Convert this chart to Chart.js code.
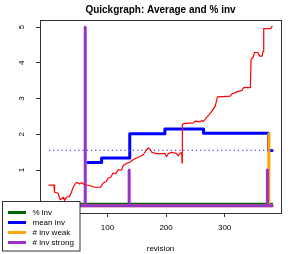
<!DOCTYPE html>
<html>
<head>
<meta charset="utf-8">
<script src="https://cdn.jsdelivr.net/npm/chart.js@4.4.0/dist/chart.umd.min.js"></script>
<style>
  body { margin: 0; background: #fff; }
  canvas { display: block; }
</style>
</head>
<body>
<canvas id="chart" width="294" height="254"></canvas>
<script>
// red running average (revision, value)
const avgRev = [0, 6.7, 8.7, 9.6, 15.3, 19.4, 25, 26.7, 29.7, 35, 38.2, 41, 45.6, 49.5, 52.5, 55.4, 61, 69.6, 78.2, 88.5,
    92.4, 98.2, 101, 105.6, 109.5, 114.2, 118.1, 124, 126.7, 131.3, 138.2, 143.8, 149.7, 155.3, 161, 166.8, 169.5,
    172.5, 175.4, 184, 198.2, 201.1, 203.8, 209.7, 218.2, 221, 223.9, 226.8, 227.3, 227.8, 229.6, 246.7, 249.6,
    258.2, 261.1, 263.8, 268.5, 274.1, 278.2, 283.9, 287.8, 309.6, 312.5, 321.1, 329.7, 332.4, 343.9, 345.1,
    348.5, 350.8, 356.4, 359.9, 364, 365.7, 366.7, 378.2, 381]
const avgVal = [0.58, 0.58, 0.58, 0.38, 0.36, 0.17, 0.24, 0.15, 0.24, 0.26, 0.37, 0.5, 0.64, 0.65, 0.61, 0.65, 0.59, 0.57, 0.52, 0.52,
    0.64, 0.68, 0.78, 0.8, 0.92, 0.9, 1.01, 1.0, 1.12, 1.18, 1.22, 1.29, 1.34, 1.38, 1.43, 1.57, 1.62,
    1.59, 1.5, 1.46, 1.46, 1.38, 1.46, 1.5, 1.46, 1.4, 1.48, 1.48, 1.2, 2.27, 2.3, 2.32, 2.37,
    2.35, 2.39, 2.36, 2.46, 2.56, 2.65, 2.79, 3.05, 3.07, 3.13, 3.19, 3.23, 3.31, 3.31, 4.1,
    4.15, 4.29, 4.29, 4.19, 4.19, 4.33, 4.96, 4.96, 5.02]

// mean inv, held until the next revision listed
const meanRev = [66, 90, 138, 198, 264, 375, 381]
const meanVal = [1.21, 1.34, 2.02, 2.15, 2.03, 1.55, 1.55]

const overallMean = 1.55
const firstRev = 0
const lastRev = 381

const pctRev = [0, 381]
const pctVal = [0.06, 0.06]

const weakRev = [0, 375.5, 375.5, 375.5, 381]
const weakVal = [0, 0, 2.02, 0, 0]

const strongRev = [0, 62, 62, 62, 137, 137, 137, 373, 373, 373, 381]
const strongVal = [0, 0, 5, 0, 0, 1, 0, 0, 1, 0, 0]

const xTicks = [0, 100, 200, 300]
const yTicks = [0, 1, 2, 3, 4, 5]

const legendLabels = ['% inv', 'mean inv', '# inv weak', '# inv strong']

const FONT = '"Liberation Sans", Arial, Helvetica, sans-serif'

function pts(xs, ys) {
    return xs.map((x, i) => ({ x: x, y: ys[i] }))
}

const frameBox = {
    id: 'frameBox',
    afterDatasetsDraw(chart) {
        const a = chart.chartArea
        const ctx = chart.ctx
        ctx.save()
        ctx.strokeStyle = '#333'
        ctx.lineWidth = 1
        ctx.strokeRect(Math.round(a.left) + 0.5, Math.round(a.top) + 0.5,
            Math.round(a.right - a.left), Math.round(a.bottom - a.top))
        ctx.restore()
    },
}

const boxLegend = {
    id: 'boxLegend',
    afterDraw(chart) {
        const ctx = chart.ctx
        ctx.save()
        ctx.fillStyle = '#fff'
        ctx.fillRect(2.5, 201.5, 77.5, 49.5)
        ctx.strokeStyle = '#333'
        ctx.lineWidth = 1
        ctx.strokeRect(2.5, 201.5, 77.5, 49.5)
        ctx.font = '8px ' + FONT
        ctx.textBaseline = 'middle'
        legendLabels.forEach((label, i) => {
            const ds = chart.data.datasets.find((d) => d.label === label)
            const y = 212.5 + i * 10
            ctx.strokeStyle = ds.borderColor
            ctx.lineWidth = 3
            ctx.beginPath()
            ctx.moveTo(8, y)
            ctx.lineTo(26, y)
            ctx.stroke()
            ctx.fillStyle = '#000'
            ctx.fillText(label, 32.5, y + 0.5)
        })
        ctx.restore()
    },
}

new Chart('chart', {
    type: 'line',
    data: {
        datasets: [
            {
                label: 'average',
                data: pts(avgRev, avgVal),
                borderColor: '#ff0000',
                borderWidth: 1.2,
            },
            {
                label: 'overall mean',
                data: pts([firstRev, lastRev], [overallMean, overallMean]),
                borderColor: '#4d4dff',
                borderWidth: 1.2,
                borderDash: [1.2, 3],
                borderCapStyle: 'butt',
            },
            {
                label: '# inv strong',
                data: pts(strongRev, strongVal),
                borderColor: '#9932cc',
                borderWidth: 3,
            },
            {
                label: '# inv weak',
                data: pts(weakRev, weakVal),
                borderColor: '#ffa500',
                borderWidth: 3,
            },
            {
                label: 'mean inv',
                data: pts(meanRev, meanVal),
                borderColor: '#0000ff',
                borderWidth: 3,
                stepped: true,
            },
            {
                label: '% inv',
                data: pts(pctRev, pctVal),
                borderColor: '#006400',
                borderWidth: 2,
            },
        ],
    },
    options: {
        responsive: false,
        animation: false,
        elements: {
            point: { radius: 0 },
            line: { tension: 0, borderJoinStyle: 'round', borderCapStyle: 'round', fill: false },
        },
        layout: { padding: { left: 0, right: 13, top: 0, bottom: 0 } },
        plugins: {
            legend: { display: false },
            tooltip: { enabled: false },
            title: {
                display: true,
                fullSize: false,
                text: 'Quickgraph: Average and % inv',
                color: '#000',
                font: { family: FONT, size: 10, weight: 'bold' },
                padding: { top: 4, bottom: 4 },
            },
        },
        scales: {
            x: {
                type: 'linear',
                min: -15.2,
                max: 396.2,
                afterBuildTicks: (s) => {
                    s.ticks = xTicks.map((v) => ({ value: v }))
                },
                afterFit: (s) => {
                    s.height = 41
                },
                grid: { drawOnChartArea: false, tickLength: 4, color: '#333' },
                border: { display: false },
                ticks: { padding: 6, maxRotation: 0, color: '#000', font: { family: FONT, size: 8 } },
                title: { display: true, text: 'revision', color: '#000', padding: 0, font: { family: FONT, size: 8 } },
            },
            y: {
                type: 'linear',
                min: -0.2,
                max: 5.2,
                afterBuildTicks: (s) => {
                    s.ticks = yTicks.map((v) => ({ value: v }))
                },
                afterFit: (s) => {
                    s.width = 40
                },
                grid: { drawOnChartArea: false, tickLength: 4, color: '#333' },
                border: { display: false },
                ticks: {
                    minRotation: 90,
                    maxRotation: 90,
                    crossAlign: 'center',
                    padding: 12,
                    color: '#000',
                    font: { family: FONT, size: 8 },
                },
            },
        },
    },
    plugins: [frameBox, boxLegend],
})
</script>
</body>
</html>
